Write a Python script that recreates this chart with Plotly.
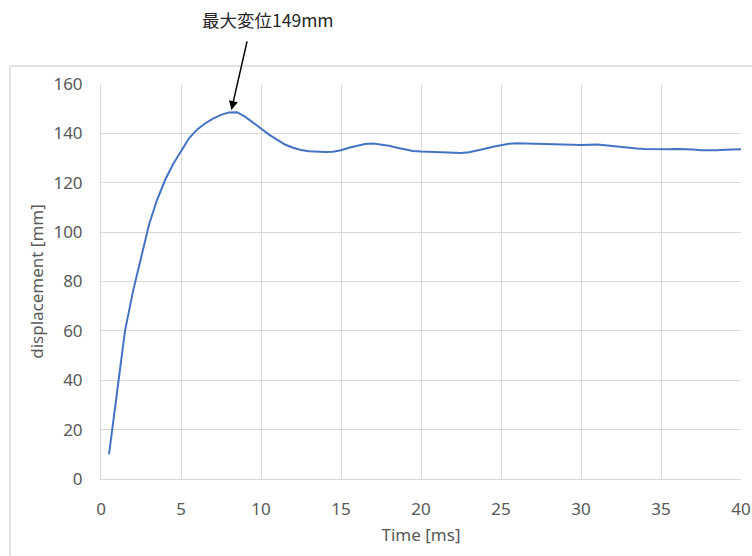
import plotly.graph_objects as go

time_ms = [0.5, 1.0, 1.5, 2.0, 2.5, 3.0, 3.5, 4.0, 4.5, 5.0,
           5.5, 6.0, 6.5, 7.0, 7.5, 8.0, 8.5, 9.0, 9.5, 10.0,
           10.5, 11.0, 11.5, 12.0, 12.5, 13.0, 13.5, 14.0, 14.5, 15.0,
           15.5, 16.0, 16.5, 17.0, 17.5, 18.0, 18.5, 19.0, 19.5, 20.0,
           20.5, 21.0, 21.5, 22.0, 22.5, 23.0, 23.5, 24.0, 24.5, 25.0,
           25.5, 26.0, 26.5, 27.0, 27.5, 28.0, 28.5, 29.0, 29.5, 30.0,
           30.5, 31.0, 31.5, 32.0, 32.5, 33.0, 33.5, 34.0, 34.5, 35.0,
           35.5, 36.0, 36.5, 37.0, 37.5, 38.0, 38.5, 39.0, 39.5, 40.0]

displacement_mm = [10, 36, 60, 76, 90, 103, 113, 121, 127.5, 132.5,
                   138, 141.5, 144, 146, 147.5, 148.5, 148.6, 146.8, 144.5, 142,
                   139.5, 137.4, 135.5, 134.2, 133.3, 132.8, 132.5, 132.5, 132.6, 133.2,
                   134.2, 135, 135.7, 135.9, 135.6, 135, 134.2, 133.4, 132.9, 132.7,
                   132.6, 132.6, 132.4, 132.2, 132.1, 132.4, 133, 133.8, 134.6, 135.2,
                   135.8, 136, 135.9, 135.7, 135.6, 135.5, 135.4, 135.5, 135.3, 135.3,
                   135.4, 135.5, 135.2, 134.8, 134.4, 134.1, 133.9, 133.7, 133.6, 133.6,
                   133.6, 133.7, 133.7, 133.5, 133.2, 133.1, 133.2, 133.4, 133.5, 133.6]

x_ticks = [0, 5, 10, 15, 20, 25, 30, 35, 40]
y_ticks = [0, 20, 40, 60, 80, 100, 120, 140, 160]

peak_time = 8.15
peak_value = 149.5
peak_label = "最大変位149mm"

font_family = "Noto Sans, Open Sans, sans-serif"
gray = "#595959"
grid = "#d9d9d9"

FIG_W, FIG_H = 752, 556
L, T, W, H = 101, 84, 640, 395

fig = go.Figure()
fig.add_trace(go.Scatter(
    x=time_ms, y=displacement_mm, mode="lines",
    line=dict(color="#4472c4", width=2), showlegend=False,
))

fig.update_layout(
    width=FIG_W, height=FIG_H,
    margin=dict(l=L, r=FIG_W - L - W, t=T, b=FIG_H - T - H, autoexpand=False),
    paper_bgcolor="white", plot_bgcolor="white",
    font=dict(family=font_family, color=gray, size=17),
    xaxis=dict(
        range=[0, 40], tickvals=x_ticks, ticktext=[str(v) for v in x_ticks],
        showgrid=True, gridcolor=grid, gridwidth=1, automargin=False,
        zeroline=False, showline=True, linecolor=grid, linewidth=1,
        ticks="outside", ticklen=15, tickcolor="rgba(0,0,0,0)",
        tickfont=dict(size=17, color=gray),
        title=dict(text="Time [ms]", font=dict(size=17, color=gray), standoff=9),
    ),
    yaxis=dict(
        range=[0, 160], tickvals=y_ticks, ticktext=[str(v) for v in y_ticks],
        showgrid=True, gridcolor=grid, gridwidth=1, automargin=False,
        zeroline=False, showline=True, linecolor=grid, linewidth=1,
        ticks="outside", ticklen=14, tickcolor="rgba(0,0,0,0)",
        tickfont=dict(size=17, color=gray),
        title=dict(text="displacement [mm]", font=dict(size=17, color=gray), standoff=5),
    ),
    shapes=[dict(type="rect", xref="paper", yref="paper",
                 x0=(10 - L) / W, x1=1.05, y0=-0.25, y1=(T + H - 66) / H,
                 line=dict(color="#d9d9d9", width=1.5), fillcolor="rgba(0,0,0,0)",
                 layer="below")],
)

fig.add_annotation(
    x=peak_time, y=peak_value, xref="x", yref="y",
    text="", showarrow=True, arrowhead=2, arrowsize=1.2, arrowwidth=1.5,
    arrowcolor="black", ax=16, ay=-70,
)
fig.add_annotation(
    x=(268 - L) / W, y=(T + H - 19.5) / H, xref="paper", yref="paper",
    xanchor="center", yanchor="middle",
    text=peak_label, showarrow=False,
    font=dict(family="Noto Sans CJK JP", size=17.5, color="#262626"),
)

fig.write_html(
    "out.html",
    config={"displayModeBar": False},
    post_script="document.body.style.margin='0px';document.body.style.overflow='hidden';",
)
